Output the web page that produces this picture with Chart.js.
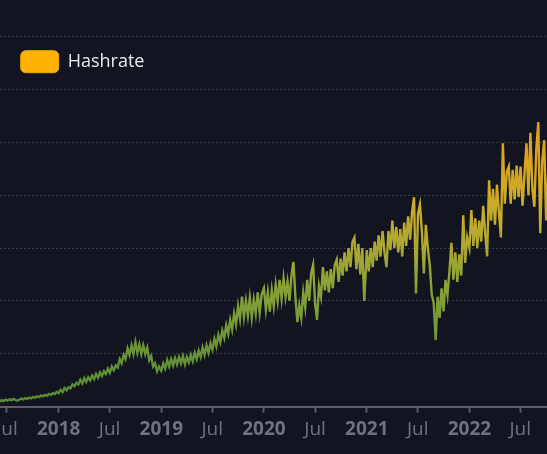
<!DOCTYPE html>
<html>
<head>
<meta charset="utf-8">
<script src="https://cdn.jsdelivr.net/npm/chart.js@4"></script>
<style>
  html, body { margin: 0; padding: 0; background: #12141f; overflow: hidden; }
  body { width: 547px; height: 454px; position: relative; }
  /* the picture is a crop of a wider chart: the y labels sit off to the left */
  #wrap { position: absolute; left: -40px; top: -10px; width: 587px; height: 464px; }
</style>
</head>
<body>
<div id="wrap"><canvas id="hashChart"></canvas></div>
<script>
// Hashrate, EH/s, one reading a week from each block's start date
const start2017 = '2017-06-05';
const hash2017 = [5.0, 6.2, 5.4, 6.6, 5.8, 7.0, 6.2, 7.3, 6.4, 5.6, 6.6, 7.6, 6.9, 8.2, 7.4, 8.7, 7.9, 9.2, 8.6, 9.8,
  9.0, 10.6, 9.7, 11.2, 10.3, 12.0, 11.2, 12.8, 12.0, 14.0];
const start2018 = '2018-01-01';
const hash2018 = [12.8, 16, 13.8, 17.8, 15.6, 18.4, 17.4, 21, 19.4, 22.6, 21, 25.5, 22, 27, 23.5, 28, 25, 29.5, 26, 31,
  27.5, 32.5, 29, 33.5, 31, 36, 32, 38, 34.5, 39, 37, 45, 41, 49, 45, 55, 49, 58, 50, 61,
  51, 59, 50, 58, 50, 56, 44, 48, 38, 41, 33.5, 38];
const start2019 = '2019-01-01';
const hash2019 = [34, 41, 36, 44, 38, 45, 39, 46, 40, 47, 41, 48, 40, 47, 42, 49, 43, 51, 45, 53,
  47, 56, 49, 58, 51, 60, 54, 64, 57, 68, 61, 72, 65, 77, 69, 82, 73, 88, 78, 95,
  83, 104, 85, 100, 86, 103, 84, 101, 88, 108, 89, 106];
const start2020 = '2020-01-01';
const hash2020 = [112, 92, 108, 90, 110, 95, 115, 100, 120, 102, 121, 104, 118, 100, 124, 137, 104, 80, 96, 84,
  108, 94, 120, 100, 126, 134, 98, 82, 114, 104, 132, 110, 128, 108, 130, 112, 134, 139, 118, 140,
  124, 146, 128, 150, 132, 156, 160, 130, 154, 125, 150, 100];
const start2021 = '2021-01-01';
const hash2021 = [148, 128, 150, 132, 156, 138, 162, 142, 166, 146, 132, 166, 148, 176, 150, 170, 146, 168, 142, 174,
  152, 180, 158, 184, 198, 107, 182, 191, 166, 126, 172, 150, 134, 106, 98, 63, 104, 84, 112, 90,
  120, 106, 128, 155, 120, 146, 118, 144, 124, 181, 136, 160];
const start2022 = '2022-01-01';
const hash2022 = [150, 186, 152, 178, 150, 176, 156, 190, 164, 142, 214, 176, 206, 172, 210, 184, 160, 249, 192, 222,
  227, 192, 224, 196, 228, 198, 227, 190, 220, 249, 200, 259, 206, 189, 244, 269, 164, 232, 252, 176, 220];

// x axis ticks
const tickDates = ['2017-07-01', '2018-01-01', '2018-07-01', '2019-01-01', '2019-07-01', '2020-01-01',
  '2020-07-01', '2021-01-01', '2021-07-01', '2022-01-01', '2022-07-01'];
const tickLabels = ['Jul', '2018', 'Jul', '2019', 'Jul', '2020', 'Jul', '2021', 'Jul', '2022', 'Jul'];

// visible window of the time axis
const viewStart = '2017-01-15';
const viewEnd = '2022-10-04';

const FONT = "'Open Sans', 'Noto Sans', sans-serif";
const DAY = 86400000;
const dayOf = s => (Date.parse(s) - Date.parse('2018-01-01')) / DAY;

const blocks = [
  [start2017, hash2017], [start2018, hash2018], [start2019, hash2019],
  [start2020, hash2020], [start2021, hash2021], [start2022, hash2022]
];
const points = [];
blocks.forEach(([start, vals]) => {
  const d0 = dayOf(start);
  vals.forEach((v, i) => points.push({ x: d0 + i * 7, y: v }));
});

const tickDays = tickDates.map(dayOf);

// green at the bottom, orange toward the top
function lineGradient(context) {
  const chart = context.chart;
  const { ctx, chartArea, scales } = chart;
  if (!chartArea) return '#6b9a3a';
  const y = scales.y;
  const g = ctx.createLinearGradient(0, y.getPixelForValue(20), 0, y.getPixelForValue(270));
  g.addColorStop(0, '#5a8c36');
  g.addColorStop(0.35, '#84a038');
  g.addColorStop(0.65, '#c8ac2c');
  g.addColorStop(1, '#e49e16');
  return g;
}

new Chart(document.getElementById('hashChart'), {
  type: 'line',
  data: {
    datasets: [{
      label: 'Hashrate',
      data: points,
      borderColor: lineGradient,
      backgroundColor: '#ffb300',
      borderWidth: 2.4,
      pointRadius: 0,
      tension: 0,
      fill: false
    }]
  },
  options: {
    responsive: true,
    maintainAspectRatio: false,
    animation: false,
    layout: { padding: 0 },
    plugins: {
      tooltip: { enabled: false },
      legend: {
        position: 'chartArea',
        align: 'start',
        labels: {
          padding: 60.7,
          boxWidth: 38,
          boxHeight: 22,
          useBorderRadius: true,
          borderRadius: 5,
          color: '#e8e9ee',
          font: { family: FONT, size: 18 },
          generateLabels: chart => [{
            text: 'Hashrate',
            fillStyle: '#ffb300',
            strokeStyle: '#f0a800',
            fontColor: '#e8e9ee',
            lineWidth: 1,
            borderRadius: 5,
            datasetIndex: 0,
            hidden: false
          }]
        }
      }
    },
    scales: {
      x: {
        type: 'linear',
        min: dayOf(viewStart),
        max: dayOf(viewEnd),
        afterBuildTicks: scale => {
          scale.ticks = tickDays.map((d, i) => ({ value: d, major: i % 2 === 1 }));
        },
        afterFit: scale => { scale.height = 47.3; },
        grid: {
          drawOnChartArea: false,
          drawTicks: true,
          tickLength: 6,
          tickWidth: 2,
          tickColor: '#565966'
        },
        border: { display: true, color: '#5c5f6b', width: 2 },
        ticks: {
          autoSkip: false,
          maxRotation: 0,
          padding: 5,
          color: '#6f727e',
          font: ctx => ({ family: FONT, size: 19, weight: ctx.tick && ctx.tick.major ? 'bold' : 'normal' }),
          callback: (value) => {
            const i = tickDays.indexOf(value);
            return i >= 0 ? tickLabels[i] : '';
          }
        }
      },
      y: {
        min: 0,
        max: 394,
        ticks: { display: false, stepSize: 50 },
        grid: { color: '#363a48', lineWidth: 1, drawTicks: false },
        border: { display: false, dash: [2, 2] }
      }
    }
  }
});
</script>
</body>
</html>
